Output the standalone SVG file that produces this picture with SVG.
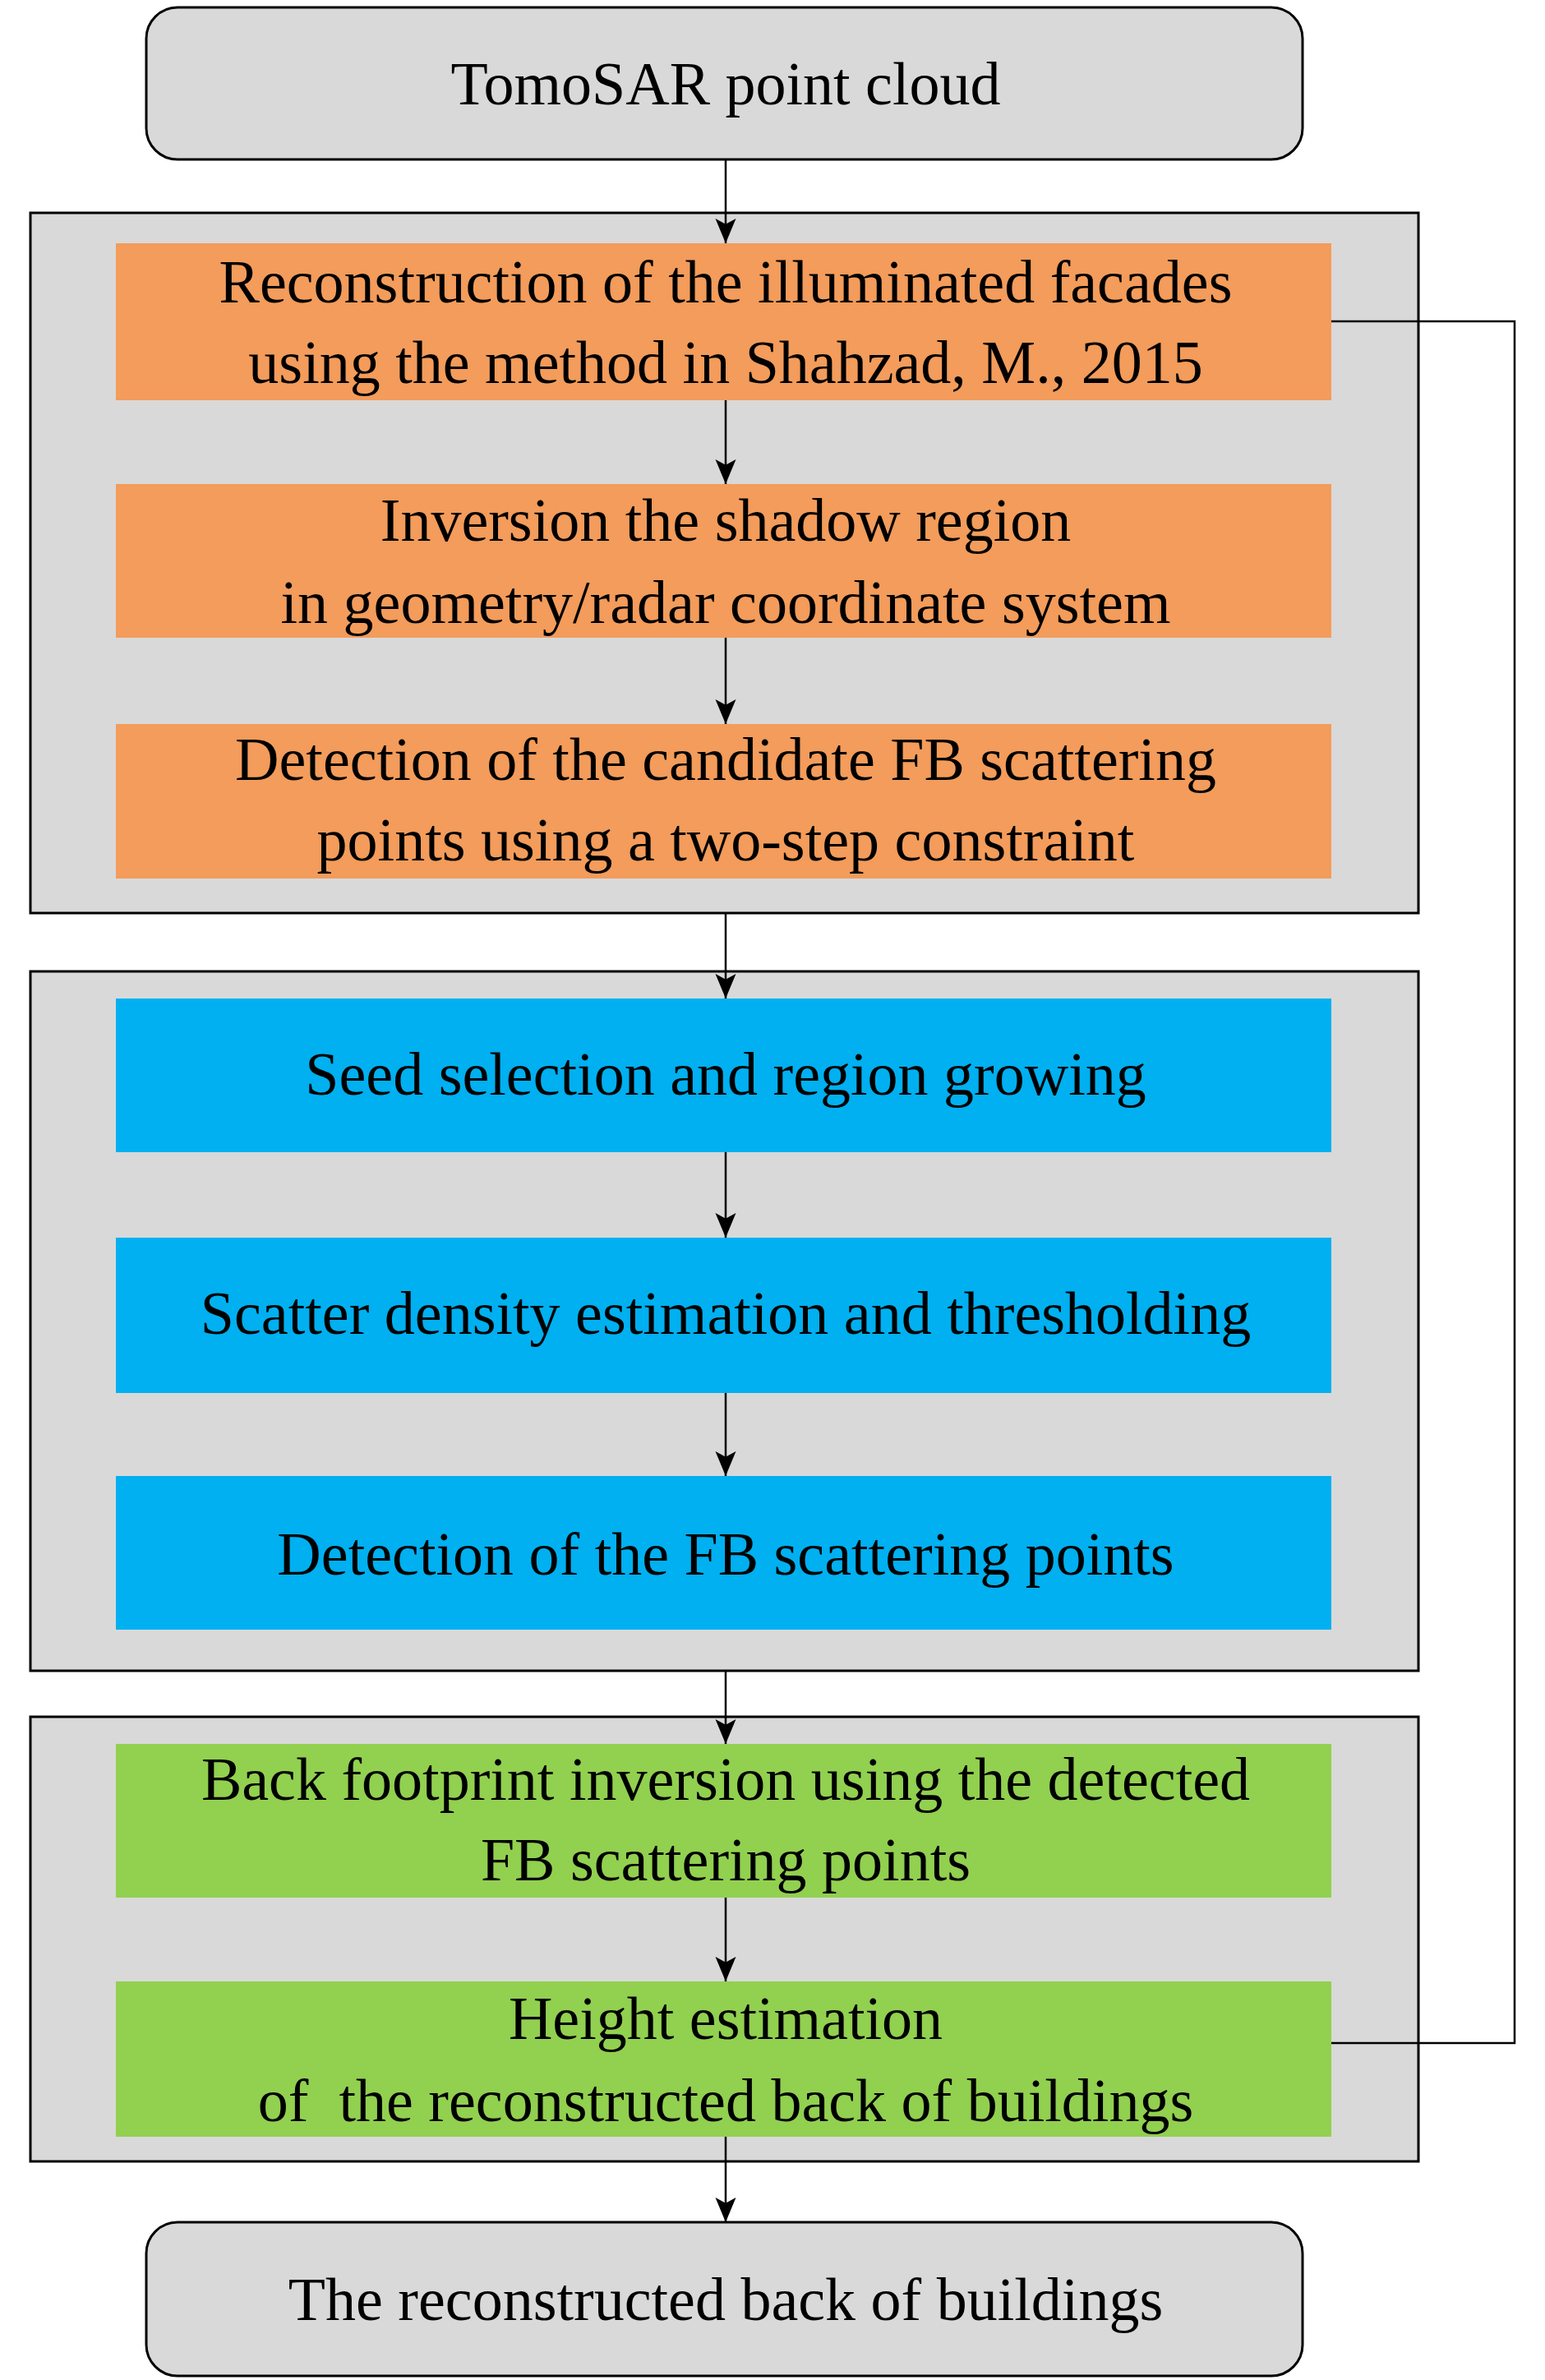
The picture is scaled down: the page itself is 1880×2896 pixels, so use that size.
<svg xmlns="http://www.w3.org/2000/svg" width="1880" height="2896" viewBox="0 0 1880 2896">
<style>
.t{font-family:"Liberation Serif","Times New Roman",serif;font-size:74px;fill:#000;text-anchor:middle}
.c{fill:#D9D9D9;stroke:#000;stroke-width:3}
.o{fill:#F39C5B}.b{fill:#00B0F0}.g{fill:#92D050}
.l{stroke:#000;stroke-width:2.5;fill:none}
</style>
<defs><marker id="a" markerWidth="30" markerHeight="40" refX="36" refY="15" viewBox="0 0 36 30" markerUnits="userSpaceOnUse" orient="auto"><path d="M0,0 L36,15 L0,30 L8,15 Z" fill="#000"/></marker></defs>
<rect class="c" x="37" y="259" width="1689" height="852"/>
<rect class="c" x="37" y="1182" width="1689" height="851"/>
<rect class="c" x="37" y="2089" width="1689" height="541"/>
<g id="n0"><rect class="c" x="178" y="9" width="1407" height="185" rx="38"/><text class="t" x="883" y="127">TomoSAR point cloud</text></g>
<g id="n1"><rect class="o" x="141" y="296" width="1479" height="191"/><text class="t" x="883" y="368">Reconstruction of the illuminated facades</text><text class="t" x="883" y="466">using the method in Shahzad, M., 2015</text></g>
<g id="n2"><rect class="o" x="141" y="589" width="1479" height="187"/><text class="t" x="883" y="658">Inversion the shadow region</text><text class="t" x="883" y="758">in geometry/radar coordinate system</text></g>
<g id="n3"><rect class="o" x="141" y="881" width="1479" height="188"/><text class="t" x="883" y="949">Detection of the candidate FB scattering</text><text class="t" x="883" y="1047">points using a two-step constraint</text></g>
<g id="n4"><rect class="b" x="141" y="1215" width="1479" height="187"/><text class="t" x="883" y="1332">Seed selection and region growing</text></g>
<g id="n5"><rect class="b" x="141" y="1506" width="1479" height="189"/><text class="t" x="883" y="1623">Scatter density estimation and thresholding</text></g>
<g id="n6"><rect class="b" x="141" y="1796" width="1479" height="187"/><text class="t" x="883" y="1916">Detection of the FB scattering points</text></g>
<g id="n7"><rect class="g" x="141" y="2122" width="1479" height="187"/><text class="t" x="883" y="2190">Back footprint inversion using the detected</text><text class="t" x="883" y="2288">FB scattering points</text></g>
<g id="n8"><rect class="g" x="141" y="2411" width="1479" height="189"/><text class="t" x="883" y="2481">Height estimation</text><text class="t" x="883" y="2581" xml:space="preserve">of  the reconstructed back of buildings</text></g>
<g id="n9"><rect class="c" x="178" y="2704" width="1407" height="187" rx="38"/><text class="t" x="883" y="2823">The reconstructed back of buildings</text></g>
<g id="edges">
<line class="l" x1="883" y1="194" x2="883" y2="296" marker-end="url(#a)"/>
<line class="l" x1="883" y1="487" x2="883" y2="589" marker-end="url(#a)"/>
<line class="l" x1="883" y1="776" x2="883" y2="881" marker-end="url(#a)"/>
<line class="l" x1="883" y1="1111" x2="883" y2="1215" marker-end="url(#a)"/>
<line class="l" x1="883" y1="1402" x2="883" y2="1506" marker-end="url(#a)"/>
<line class="l" x1="883" y1="1695" x2="883" y2="1796" marker-end="url(#a)"/>
<line class="l" x1="883" y1="2033" x2="883" y2="2122" marker-end="url(#a)"/>
<line class="l" x1="883" y1="2309" x2="883" y2="2411" marker-end="url(#a)"/>
<line class="l" x1="883" y1="2600" x2="883" y2="2704" marker-end="url(#a)"/>
<polyline class="l" points="1620,391 1843,391 1843,2486 1620,2486"/>
</g>
</svg>
